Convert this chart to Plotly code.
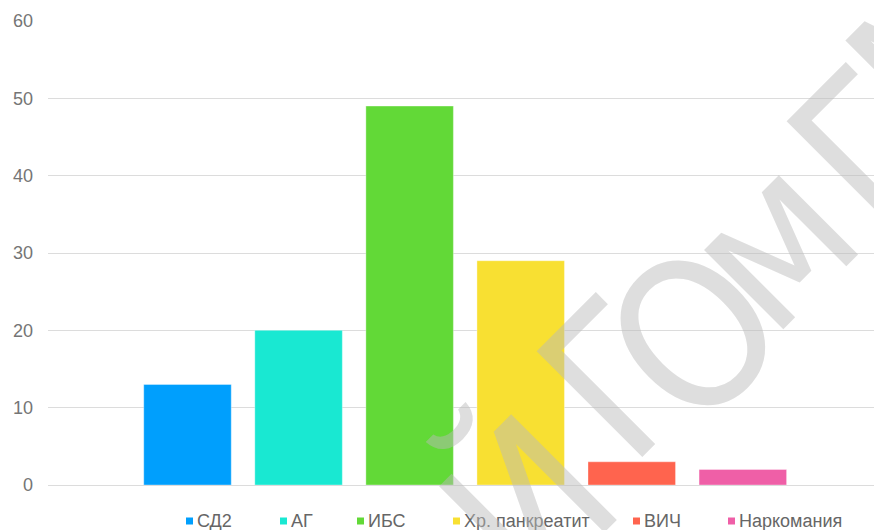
import plotly.graph_objects as go

# Data
categories = ["СД2", "АГ", "ИБС", "Хр. панкреатит", "ВИЧ", "Наркомания"]
values = [13, 20, 49, 29, 3, 2]
colors = ["#009ffd", "#19e8d2", "#62d937", "#f8e032", "#ff644e", "#ef5fa7"]
y_ticks = [0, 10, 20, 30, 40, 50, 60]

# Canvas / plot-area geometry (pixels)
W, H = 874, 530
ML, MR, MT, MB = 48, 0, 21, 45
PW, PH = W - ML - MR, H - MT - MB


def px(x):
    return (x - ML) / PW


def py(y):
    return (H - MB - y) / PH


fig = go.Figure()
fig.add_trace(go.Bar(
    x=categories,
    y=values,
    width=0.788,
    marker=dict(color=colors, line=dict(color="rgba(255,255,255,0.35)", width=1)),
    showlegend=False,
    hoverinfo="x+y",
))

# Legend row along the bottom
legend_x = [186, 280, 357, 453, 633, 728]
legend_y = 521
shapes = []
annotations = []
for name, col, lx in zip(categories, colors, legend_x):
    shapes.append(dict(type="rect", xref="paper", yref="paper",
                       x0=px(lx), x1=px(lx + 7),
                       y0=py(legend_y + 3.5), y1=py(legend_y - 3.5),
                       fillcolor=col, line=dict(width=0), layer="above"))
    annotations.append(dict(text=name, xref="paper", yref="paper",
                            x=px(lx + 9), y=py(legend_y),
                            xanchor="left", yanchor="middle", showarrow=False,
                            font=dict(family="Liberation Sans, Arial", size=18, color="#666666")))

# Diagonal watermark lettering
wm_letters = ["Й", "Г", "О", "м", "Г", "М"]
wm_pos = [(530, 505), (619, 380), (695, 336), (770, 242), (869, 150), (944, 53)]
for ch, (wx, wy) in zip(wm_letters, wm_pos):
    annotations.append(dict(text=ch, xref="paper", yref="paper",
                            x=px(wx), y=py(wy), xanchor="center", yanchor="middle",
                            textangle=-45, showarrow=False,
                            font=dict(family="Liberation Sans Narrow, DejaVu Sans Condensed, Liberation Sans",
                                      size=205, color="rgba(186,186,186,0.48)")))

fig.update_layout(
    width=W, height=H,
    margin=dict(l=ML, r=MR, t=MT, b=MB, pad=0),
    paper_bgcolor="white", plot_bgcolor="white",
    bargap=0.2,
    xaxis=dict(range=[-1.256, 6.181], showticklabels=False, showgrid=False,
               zeroline=False, showline=False, ticks=""),
    yaxis=dict(range=[0, 60], tickvals=y_ticks, showgrid=True, gridcolor="#dcdcdc",
               gridwidth=1, zeroline=True, zerolinecolor="#dcdcdc", zerolinewidth=1,
               showline=False, ticks="", ticklabelstandoff=14,
               tickfont=dict(family="Liberation Sans, Arial", size=18, color="#757575")),
    shapes=shapes,
    annotations=annotations,
    showlegend=False,
)

fig.write_html("out.html")
